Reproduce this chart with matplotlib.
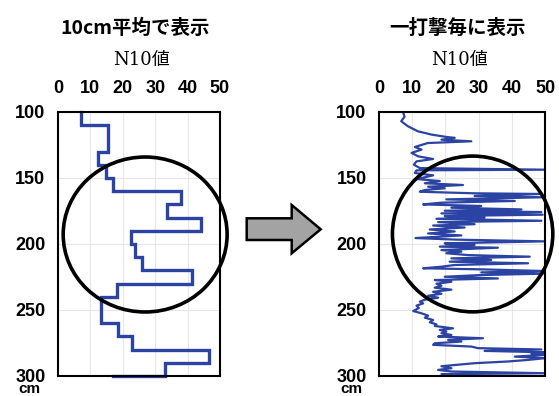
import matplotlib
matplotlib.use('Agg')
import matplotlib.pyplot as plt
from matplotlib.patches import Ellipse, Polygon

# === Data ===
# 10cm averaged N10 (left): value for each 10cm interval starting at depth_top
depth_top = [100, 110, 120, 130, 140, 150, 160, 170, 180, 190,
             200, 210, 220, 230, 240, 250, 260, 270, 280, 290]
n10_avg = [7, 15.5, 15.5, 12.3, 14.7, 17, 38, 33.5, 44, 22.5,
           23.7, 26, 41.5, 18.3, 13.4, 13.2, 18.6, 22.7, 46.7, 33]
depth_bottom = 300
n10_bottom = 17

# per-blow N10 (right)
blow_depth = [100, 103.5, 107, 110.8, 114.6, 117.1, 118.9, 119.6, 121, 122.2,
              123.5, 126.5, 128.5, 131, 133.6, 135.6, 137.4, 139.9, 142.5, 143.7,
              144.2, 146.2, 148, 150.8, 152.3, 154, 155.3, 156.6, 157.8, 159.1,
              160.4, 161.6, 162.1, 163.6, 164.6, 166.2, 167.4, 168.7, 170, 171.2,
              172.5, 173.8, 174.8, 175.8, 176.8, 177.8, 178.8, 179.9, 180.9, 182.4,
              183.4, 185, 186, 187.5, 189, 190.5, 192, 193.5, 195.5, 196.7,
              198, 199.5, 200.7, 202, 202.8, 204.6, 205.8, 207, 208.4, 209.6,
              210.9, 212.1, 213.4, 214.6, 215.9, 217.2, 218.4, 219.2, 220.5, 221.5,
              222.5, 223.5, 224.8, 226.1, 227.3, 228.6, 230.1, 231.6, 233.1, 234.6,
              236.2, 237.7, 239.2, 240.7, 242.2, 243.7, 245, 246.7, 248.5, 250.8,
              252.5, 254.3, 255.8, 257.6, 259.3, 260.9, 262.1, 263.9, 265.1, 266.4,
              267.6, 268.9, 270.1, 271.4, 272.6, 273.9, 275.2, 276.4, 277.7, 278.9,
              279.9, 281, 282, 283, 284, 285.3, 286.5, 287.8, 289, 290.3,
              291.6, 292.6, 294.1, 295.4, 296.6, 297.9, 298.6, 300]
blow_n10 = [7.2, 7.7, 6.7, 8.7, 11.7, 15.8, 20.3, 22.8, 18.8, 27.8,
            14.7, 10.8, 12.8, 9.8, 11.8, 16.3, 11.3, 10.5, 12.3, 50,
            11.3, 10.8, 16.3, 11.4, 18.3, 13.8, 25.3, 14.8, 19.8, 13.8,
            12.3, 28.8, 48.9, 28.8, 49.3, 20.3, 40.9, 18.8, 13.3, 30.8,
            21.8, 42.9, 19.8, 48.9, 18.8, 49.3, 19.8, 31.8, 17.3, 48.9,
            17.8, 28.8, 16.3, 25.8, 15.3, 22.8, 14.8, 24.8, 11, 23.3,
            50, 19.8, 28.8, 18.3, 35.8, 18.8, 24.8, 20.3, 26.8, 45.4,
            21.8, 33.8, 21.3, 44.9, 22.8, 18.8, 13.3, 30.8, 50, 30.8,
            49.3, 30.8, 19.8, 35.8, 16.8, 21.8, 17.3, 18.8, 16.8, 21.8,
            16.3, 18.8, 14.8, 17.8, 13.8, 12.3, 13.3, 11.3, 12, 10.3,
            12.8, 14.8, 13.8, 16.3, 15.3, 17.3, 16.8, 22.3, 18.3, 20.3,
            18.8, 21.8, 17.8, 31.3, 20.8, 24.8, 16.8, 16.3, 27.8, 29.8,
            48.9, 31.8, 50, 45.9, 50, 40.9, 50, 44.9, 38.9, 28.8,
            23.3, 18.8, 21.8, 17.8, 21.8, 50, 18.8, 20]

x_ticks = [0, 10, 20, 30, 40, 50]
y_ticks = [100, 150, 200, 250, 300]
titles = ['10cm平均で表示', '一打撃毎に表示']
axis_label = 'N10値'

LINE_BLUE = '#2b43a3'
W, H = 559, 396


def px(x, y):
    """ pixel position -> figure fraction """
    return x / W, 1 - y / H


def style_axis(ax):
    ax.set_xlim(0, 50)
    ax.set_ylim(300, 100)
    ax.set_xticks(x_ticks)
    ax.set_yticks(y_ticks)
    ax.xaxis.tick_top()
    ax.tick_params(length=0)
    ax.tick_params(axis='x', pad=11)
    ax.tick_params(axis='y', pad=9)
    for lab in ax.get_xticklabels() + ax.get_yticklabels():
        lab.set_fontfamily('Liberation Sans')
        lab.set_fontweight('bold')
        lab.set_fontsize(13)
    ax.grid(True, color='#e6e6e6', lw=0.8)
    ax.set_axisbelow(True)
    for sp in ax.spines.values():
        sp.set_linewidth(1.5)
        sp.set_color('black')


fig = plt.figure(figsize=(W / 100, H / 100), dpi=100)

# left: 10cm average as steps
ax1 = fig.add_axes([58 / W, 20 / H, 162 / W, 264 / H])
step_x, step_y = [], []
for d, v in zip(depth_top, n10_avg):
    step_x += [v, v]
    step_y += [d, d + 10]
step_x.append(n10_bottom)
step_y.append(depth_bottom)
ax1.plot(step_x, step_y, color=LINE_BLUE, lw=2.4, clip_on=False, solid_joinstyle='miter')
style_axis(ax1)
ax1.add_patch(Ellipse((26.9, 192.8), 50.6, 117.4, fill=False, lw=2.6,
                      color='black', clip_on=False, zorder=5))

# right: per blow
ax2 = fig.add_axes([379 / W, 20 / H, 166 / W, 264 / H])
ax2.plot(blow_n10, blow_depth, color=LINE_BLUE, lw=1.6)
style_axis(ax2)
ax2.add_patch(Ellipse((28.2, 192.4), 48.3, 118, fill=False, lw=2.6,
                      color='black', clip_on=False, zorder=5))

# titles and axis labels
for cx, title, lab_cx in [(135, titles[0], 142), (457, titles[1], 460)]:
    fig.text(*px(cx, 28), title, ha='center', va='center', fontsize=14,
             fontweight='bold', family=['Noto Sans CJK JP', 'DejaVu Sans'])
    fig.text(*px(lab_cx, 60), axis_label, ha='center', va='center', fontsize=13,
             family=['DejaVu Serif', 'Noto Sans CJK JP'])

# depth unit under the bottom tick label
for cx in [29, 351]:
    fig.text(*px(cx, 396), 'cm', ha='center', va='bottom', fontsize=11,
             fontweight='bold', family='Liberation Sans')

# arrow between the panels
arrow_pts = [px(246.7, 218.3), px(291.7, 218.3), px(291.7, 205), px(320.7, 229.3),
             px(291.7, 253.3), px(291.7, 240), px(246.7, 240)]
fig.add_artist(Polygon(arrow_pts, closed=True, facecolor='#a3a3a3',
                       edgecolor='black', lw=1.8, transform=fig.transFigure))

fig.savefig('out.png', dpi=100)
